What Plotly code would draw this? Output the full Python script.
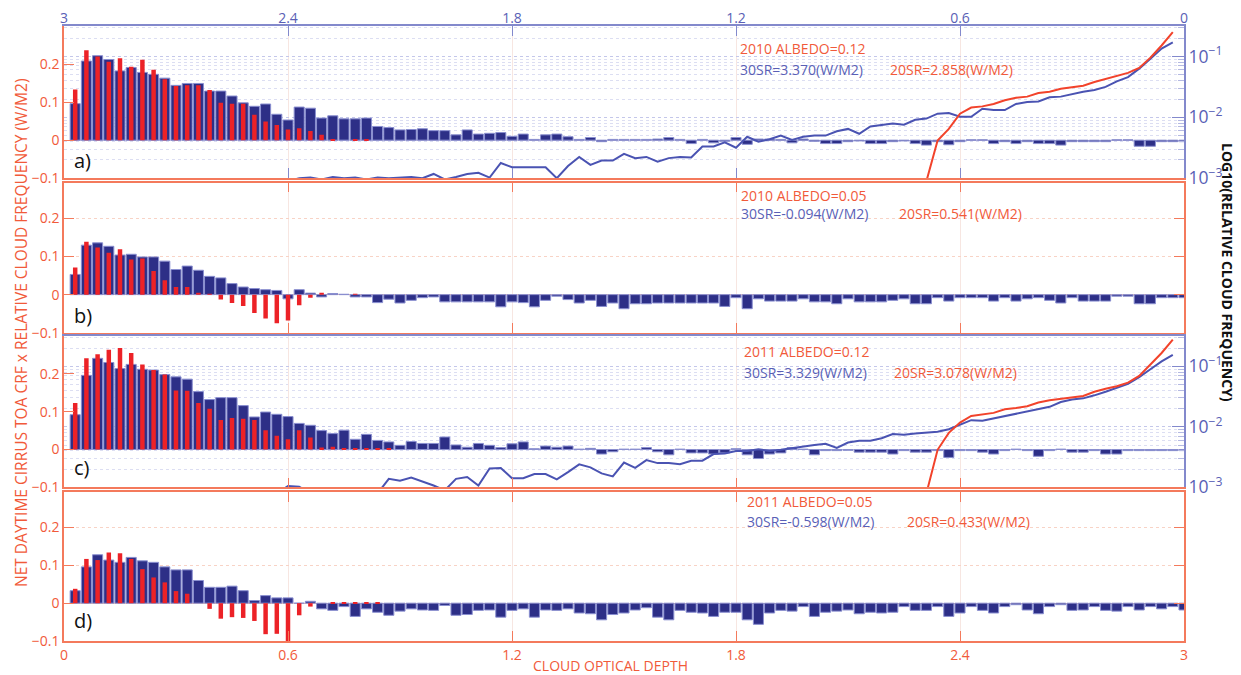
import plotly.graph_objects as go

# ---------------- data ----------------
# cloud optical depth bin centres (bottom axis) / same grid used for the top (reversed) axis
bins = [round(0.03 * k, 2) for k in range(1, 101)]

# panel a) 2010 ALBEDO=0.12  (30SR blue bars, 20SR red bars)
a_30sr = [0.096, 0.208, 0.222, 0.212, 0.182, 0.191, 0.178, 0.173, 0.163, 0.144,
          0.149, 0.149, 0.129, 0.129, 0.116, 0.098, 0.089, 0.095, 0.068, 0.053,
          0.087, 0.084, 0.058, 0.064, 0.056, 0.056, 0.058, 0.036, 0.033, 0.027,
          0.028, 0.030, 0.025, 0.025, 0.014, 0.027, 0.016, 0.018, 0.020, 0.010,
          0.016, 0.002, 0.014, 0.016, 0.009, 0.002, 0.007, -0.004, 0.002, 0.002,
          0.002, 0.002, 0.003, 0.007, 0.002, -0.009, 0.002, -0.007, -0.003, 0.007,
          -0.011, 0.003, 0.003, 0.002, -0.007, 0.003, -0.003, -0.009, -0.009, -0.004,
          -0.002, -0.009, -0.009, -0.004, -0.002, -0.009, -0.013, -0.004, -0.012, -0.004,
          0.001, 0.001, -0.009, -0.004, -0.009, -0.004, -0.009, -0.009, -0.013, -0.004,
          -0.004, -0.004, -0.004, 0.001, 0.001, -0.016, -0.016, -0.004, -0.004, -0.004]
a_20sr = [0.133, 0.236, 0.220, 0.206, 0.215, 0.193, 0.211, 0.185, 0.160, 0.142,
          0.144, 0.144, 0.132, 0.098, 0.096, 0.096, 0.067, 0.049, 0.040, 0.028,
          0.031, 0.024, 0.014, 0.002, 0.000, 0.002, 0.003, 0, 0, 0,
          0, 0, 0, 0, 0, 0, 0, 0, 0, 0, 0, 0, 0, 0, 0, 0, 0, 0, 0, 0,
          0, 0, 0, 0, 0, 0, 0, 0, 0, 0, 0, 0, 0, 0, 0, 0, 0, 0, 0, 0,
          0, 0, 0, 0, 0, 0, 0, 0, 0, 0, 0, 0, 0, 0, 0, 0, 0, 0, 0, 0,
          0, 0, 0, 0, 0, 0, 0, 0, 0, 0]

# panel b) 2010 ALBEDO=0.05
b_30sr = [0.053, 0.130, 0.136, 0.127, 0.104, 0.106, 0.099, 0.099, 0.088, 0.066,
          0.075, 0.064, 0.048, 0.044, 0.029, 0.020, 0.016, 0.013, 0.011, -0.011,
          0.013, 0.004, -0.006, 0.003, 0.001, -0.006, -0.006, -0.021, -0.012, -0.022,
          -0.015, -0.008, -0.006, -0.019, -0.019, -0.019, -0.019, -0.019, -0.032, -0.019,
          -0.021, -0.032, -0.015, -0.004, -0.013, -0.022, -0.015, -0.031, -0.022, -0.037,
          -0.024, -0.024, -0.022, -0.022, -0.022, -0.022, -0.022, -0.022, -0.031, -0.008,
          -0.037, -0.011, -0.017, -0.017, -0.017, -0.011, -0.019, -0.019, -0.024, -0.011,
          -0.019, -0.019, -0.019, -0.015, -0.011, -0.024, -0.024, -0.008, -0.017, -0.008,
          -0.008, -0.008, -0.017, -0.008, -0.017, -0.011, -0.008, -0.015, -0.022, -0.008,
          -0.017, -0.017, -0.017, -0.004, -0.004, -0.024, -0.024, -0.008, -0.008, -0.008]
b_20sr = [0.071, 0.139, 0.124, 0.110, 0.119, 0.092, 0.095, 0.062, 0.038, 0.020,
          0.020, 0.003, 0.001, -0.013, -0.022, -0.030, -0.048, -0.063, -0.075, -0.068,
          -0.028, -0.008, 0.004, 0, 0, 0.001, 0, 0, 0, 0,
          0, 0, 0, 0, 0, 0, 0, 0, 0, 0, 0, 0, 0, 0, 0, 0, 0, 0, 0, 0,
          0, 0, 0, 0, 0, 0, 0, 0, 0, 0, 0, 0, 0, 0, 0, 0, 0, 0, 0, 0,
          0, 0, 0, 0, 0, 0, 0, 0, 0, 0, 0, 0, 0, 0, 0, 0, 0, 0, 0, 0,
          0, 0, 0, 0, 0, 0, 0, 0, 0, 0]

# panel c) 2011 ALBEDO=0.12
c_30sr = [0.092, 0.196, 0.241, 0.230, 0.214, 0.225, 0.212, 0.210, 0.198, 0.192,
          0.186, 0.153, 0.132, 0.137, 0.137, 0.116, 0.086, 0.099, 0.093, 0.087,
          0.069, 0.064, 0.050, 0.042, 0.051, 0.027, 0.040, 0.024, 0.020, 0.011,
          0.021, 0.016, 0.016, 0.033, 0.012, 0.006, 0.016, 0.011, 0.005, 0.015,
          0.020, 0.002, 0.009, 0.006, 0.009, 0.001, 0.003, -0.012, -0.006, 0.001,
          0.001, 0.005, -0.006, -0.014, 0.001, -0.009, -0.009, -0.012, -0.009, 0.002,
          -0.014, -0.024, -0.012, -0.009, 0.005, 0.001, -0.014, -0.003, -0.003, -0.002,
          -0.007, -0.007, -0.007, -0.012, -0.003, -0.007, -0.007, -0.003, -0.021, -0.003,
          -0.003, -0.007, -0.012, -0.003, 0.001, -0.003, -0.018, -0.003, 0.001, -0.007,
          -0.007, -0.003, -0.012, -0.012, -0.003, -0.003, -0.003, -0.003, -0.003, -0.003]
c_20sr = [0.123, 0.241, 0.252, 0.264, 0.268, 0.255, 0.225, 0.210, 0.198, 0.156,
          0.155, 0.123, 0.108, 0.078, 0.083, 0.081, 0.078, 0.051, 0.036, 0.027,
          0.051, 0.032, 0.005, 0.007, 0.003, 0.002, 0.002, 0.002, 0.002, 0,
          0, 0, 0, 0, 0, 0, 0, 0, 0, 0, 0, 0, 0, 0, 0, 0, 0, 0, 0, 0,
          0, 0, 0, 0, 0, 0, 0, 0, 0, 0, 0, 0, 0, 0, 0, 0, 0, 0, 0, 0,
          0, 0, 0, 0, 0, 0, 0, 0, 0, 0, 0, 0, 0, 0, 0, 0, 0, 0, 0, 0,
          0, 0, 0, 0, 0, 0, 0, 0, 0, 0]

# panel d) 2011 ALBEDO=0.05
d_30sr = [0.033, 0.096, 0.128, 0.114, 0.108, 0.121, 0.112, 0.108, 0.096, 0.088,
          0.088, 0.060, 0.042, 0.042, 0.045, 0.033, 0.007, 0.020, 0.014, 0.014,
          0.000, 0.005, -0.015, -0.019, -0.009, -0.035, -0.015, -0.024, -0.032, -0.021,
          -0.015, -0.018, -0.019, -0.006, -0.032, -0.030, -0.019, -0.018, -0.037, -0.019,
          -0.015, -0.037, -0.018, -0.019, -0.015, -0.026, -0.028, -0.044, -0.030, -0.026,
          -0.018, -0.012, -0.037, -0.044, -0.019, -0.024, -0.026, -0.035, -0.024, -0.024,
          -0.044, -0.056, -0.026, -0.019, -0.021, -0.009, -0.035, -0.024, -0.021, -0.018,
          -0.028, -0.024, -0.026, -0.024, -0.009, -0.019, -0.019, -0.009, -0.035, -0.026,
          -0.009, -0.019, -0.026, -0.009, -0.004, -0.018, -0.028, -0.009, -0.004, -0.019,
          -0.018, -0.009, -0.019, -0.021, -0.009, -0.018, -0.009, -0.015, -0.009, -0.018]
d_20sr = [0.038, 0.117, 0.114, 0.134, 0.132, 0.117, 0.090, 0.068, 0.055, 0.032,
          0.025, 0.000, -0.015, -0.041, -0.037, -0.039, -0.047, -0.082, -0.081, -0.100,
          -0.032, -0.009, 0.000, 0.003, 0.002, 0.002, 0.002, 0.002, 0, 0,
          0, 0, 0, 0, 0, 0, 0, 0, 0, 0, 0, 0, 0, 0, 0, 0, 0, 0, 0, 0,
          0, 0, 0, 0, 0, 0, 0, 0, 0, 0, 0, 0, 0, 0, 0, 0, 0, 0, 0, 0,
          0, 0, 0, 0, 0, 0, 0, 0, 0, 0, 0, 0, 0, 0, 0, 0, 0, 0, 0, 0,
          0, 0, 0, 0, 0, 0, 0, 0, 0, 0]

# log10(relative cloud frequency) vs optical depth (top axis, starting at 0.03)
a_freq30_log10 = [-0.77, -0.87, -1.04, -1.20, -1.34, -1.41, -1.50, -1.55, -1.58, -1.62,
                  -1.66, -1.67, -1.74, -1.75, -1.78, -1.88, -1.88, -1.86, -1.99, -1.99,
                  -1.93, -1.94, -2.02, -2.04, -2.12, -2.10, -2.13, -2.15, -2.27, -2.19,
                  -2.23, -2.30, -2.30, -2.32, -2.37, -2.30, -2.36, -2.40, -2.32, -2.50,
                  -2.41, -2.48, -2.48, -2.66, -2.65, -2.67, -2.73, -2.65, -2.67, -2.60,
                  -2.71, -2.71, -2.78, -2.65, -2.80, -3.00, -2.82, -2.82, -2.82, -2.82,
                  -2.75, -2.99, -2.91, -2.93, -2.98, -3.02, -2.93, -3.00, -2.98, -2.99,
                  -3.00, -2.99, -3.02, -2.99, -3.00, -2.98, -3.02, -2.99, -3.00, -3.05]
a_freq20_log10 = [-0.60, -0.82, -1.02, -1.19, -1.27, -1.32, -1.36, -1.42, -1.48, -1.50,
                  -1.53, -1.58, -1.60, -1.66, -1.68, -1.72, -1.78, -1.82, -1.84, -1.94,
                  -2.19, -2.38, -3.05]
c_freq30_log10 = [-0.81, -0.92, -1.05, -1.18, -1.29, -1.36, -1.42, -1.48, -1.53, -1.55,
                  -1.59, -1.67, -1.71, -1.74, -1.78, -1.82, -1.87, -1.90, -1.89, -1.96,
                  -2.04, -2.08, -2.09, -2.11, -2.13, -2.12, -2.19, -2.23, -2.23, -2.26,
                  -2.35, -2.28, -2.30, -2.33, -2.35, -2.38, -2.40, -2.37, -2.40, -2.40,
                  -2.44, -2.45, -2.56, -2.56, -2.62, -2.60, -2.60, -2.55, -2.68, -2.59,
                  -2.82, -2.77, -2.67, -2.62, -2.75, -2.87, -2.78, -2.78, -2.85, -2.85,
                  -2.68, -2.69, -2.97, -2.83, -2.86, -3.05, -2.97, -2.90, -2.84, -2.89,
                  -2.86, -3.10, -3.20, -3.20, -3.20, -3.20, -3.20, -3.10, -2.99, -2.98,
                  -3.10]
c_freq20_log10 = [-0.56, -0.78, -0.97, -1.16, -1.27, -1.33, -1.37, -1.42, -1.49, -1.51,
                  -1.53, -1.56, -1.60, -1.66, -1.69, -1.71, -1.77, -1.80, -1.82, -1.93,
                  -2.10, -2.38, -3.10]

panel_letters = ["a)", "b)", "c)", "d)"]
albedo_titles = ["2010 ALBEDO=0.12", "2010 ALBEDO=0.05", "2011 ALBEDO=0.12", "2011 ALBEDO=0.05"]
sr30_texts = ["30SR=3.370(W/M2)", "30SR=-0.094(W/M2)", "30SR=3.329(W/M2)", "30SR=-0.598(W/M2)"]
sr20_texts = ["20SR=2.858(W/M2)", "20SR=0.541(W/M2)", "20SR=3.078(W/M2)", "20SR=0.433(W/M2)"]
x_ticks = [0, 0.6, 1.2, 1.8, 2.4, 3]

# ---------------- styling ----------------
FONT = "Open Sans"
ORANGE = "#f47a5c"
ORANGE_TXT = "#f15a3a"
RED = "#ec2227"
NAVY = "#2d2f87"
BLUE_EDGE = "#8a8fd0"
BLUE_LINE = "#4a53b2"
RED_LINE = "#f2432b"
BLUE_TXT = "#5a5fb6"
BLUE_AX = "#8389cc"

# the page body has an 8px margin, so the figure is drawn 8px right/down of the window corner
OFF = 8
W, H = 1241 - OFF, 675 - OFF
PL, PT, PR, PB = 64, 26, 1184, 641          # plot area edges in window pixels

fig = go.Figure()

series = [(a_30sr, a_20sr), (b_30sr, b_20sr), (c_30sr, c_20sr), (d_30sr, d_20sr)]
for i, (blue, red) in enumerate(series):
    xa = "x" if i == 0 else f"x{i+1}"
    ya = "y" if i == 0 else f"y{i+1}"
    fig.add_trace(go.Bar(x=bins, y=blue, width=0.027, xaxis=xa, yaxis=ya,
                         marker=dict(color=NAVY, line=dict(color=BLUE_EDGE, width=1)),
                         showlegend=False, hoverinfo="skip"))
    fig.add_trace(go.Bar(x=bins, y=red, width=0.012, xaxis=xa, yaxis=ya,
                         marker=dict(color=RED, line=dict(width=0)),
                         showlegend=False, hoverinfo="skip"))

for (f30, f20, xa, ya) in [(a_freq30_log10, a_freq20_log10, "x5", "y5"),
                           (c_freq30_log10, c_freq20_log10, "x6", "y6")]:
    fig.add_trace(go.Scatter(x=bins[:len(f30)], y=[10 ** v for v in f30], mode="lines",
                             line=dict(color=BLUE_LINE, width=2), xaxis=xa, yaxis=ya,
                             showlegend=False, hoverinfo="skip"))
    fig.add_trace(go.Scatter(x=bins[:len(f20)], y=[10 ** v for v in f20], mode="lines",
                             line=dict(color=RED_LINE, width=2), xaxis=xa, yaxis=ya,
                             showlegend=False, hoverinfo="skip"))

domains = [[0.7525, 1.0], [0.5013, 0.7452], [0.2499, 0.4959], [0.0, 0.2423]]
yranges = [[-0.1, 0.3], [-0.1, 0.294], [-0.1, 0.3], [-0.1, 0.294]]

layout = dict(
    width=W, height=H,
    margin=dict(l=PL - OFF, r=W - (PR - OFF), t=PT - OFF, b=H - (PB - OFF), pad=0),
    paper_bgcolor="white", plot_bgcolor="white",
    barmode="overlay", showlegend=False,
    font=dict(family=FONT, size=14, color=ORANGE_TXT),
)

for i in range(4):
    xk = "xaxis" if i == 0 else f"xaxis{i+1}"
    yk = "yaxis" if i == 0 else f"yaxis{i+1}"
    ya = "y" if i == 0 else f"y{i+1}"
    xa = "x" if i == 0 else f"x{i+1}"
    log_panel = i in (0, 2)
    layout[xk] = dict(
        domain=[0, 1], anchor=ya, range=[0, 3], tickvals=x_ticks, automargin=False,
        ticks="inside", ticklen=10, tickcolor=BLUE_AX if i == 0 else ORANGE, tickwidth=1,
        showticklabels=(i == 3), tickfont=dict(color=ORANGE_TXT, size=14),
        showline=True, linecolor=ORANGE, linewidth=1.5,
        mirror=(False if log_panel else "ticks"),
        showgrid=True, gridcolor="#f7e6e1", gridwidth=1, zeroline=False,
    )
    if i > 0:
        layout[xk]["matches"] = "x"
    layout[yk] = dict(
        domain=domains[i], anchor=xa, range=yranges[i], automargin=False,
        tickvals=[-0.1, 0, 0.1, 0.2], ticks="inside", ticklen=10, tickcolor=ORANGE,
        tickfont=dict(color=ORANGE_TXT, size=14),
        showline=True, linecolor=ORANGE, linewidth=1.5,
        mirror=(False if log_panel else "ticks"),
        showgrid=not log_panel, gridcolor="#f8d3c6", griddash="dot", gridwidth=1,
        zeroline=True, zerolinecolor="#c9c6e6" if log_panel else "#f5c3b4", zerolinewidth=1,
    )

for (xk, yk, basex, basey, labels) in [("xaxis5", "yaxis5", "x", "y", True),
                                       ("xaxis6", "yaxis6", "x3", "y3", False)]:
    layout[xk] = dict(
        overlaying=basex, anchor=basey, side="top", range=[3, 0], automargin=False,
        tickvals=[3, 2.4, 1.8, 1.2, 0.6, 0], ticklabelstandoff=-4,
        ticks="inside" if labels else "", ticklen=10, tickcolor=BLUE_AX,
        showticklabels=labels, tickfont=dict(color=BLUE_TXT, size=14),
        showline=True, linecolor=BLUE_AX, linewidth=1.5, showgrid=False, zeroline=False,
    )
    layout[yk] = dict(
        overlaying=basey, anchor=basex, side="right", type="log", range=[-3, -0.5],
        automargin=False, dtick=1, exponentformat="power", showexponent="all",
        ticks="inside", ticklen=12, tickcolor=BLUE_AX,
        tickfont=dict(color=BLUE_TXT, size=14),
        showline=True, linecolor=BLUE_AX, linewidth=1.5,
        showgrid=True, gridcolor="#c4c7ea", griddash="dot", gridwidth=1,
        minor=dict(ticks="inside", ticklen=6, tickcolor="#b5b9e2",
                   showgrid=True, gridcolor="#dcdef2", griddash="dot"),
        zeroline=False,
    )

fig.update_layout(**layout)


def px_x(px):
    return (px - PL) / float(PR - PL)


def px_y(py):
    return (PB - py) / float(PB - PT)


ann = []
title_y = [48, 196, 352, 502]
sr_y = [69, 213, 372, 521]
title_x = [738, 739, 742, 745]
sr20_x = [888, 897, 892, 905]
letter_y = [160, 315, 467, 620]
for i in range(4):
    ann.append(dict(text=albedo_titles[i], x=px_x(title_x[i]), y=px_y(title_y[i]),
                    xanchor="left", yanchor="middle", font=dict(color=ORANGE_TXT, size=14)))
    ann.append(dict(text=sr30_texts[i], x=px_x(title_x[i]), y=px_y(sr_y[i]),
                    xanchor="left", yanchor="middle", font=dict(color=BLUE_TXT, size=14)))
    ann.append(dict(text=sr20_texts[i], x=px_x(sr20_x[i]), y=px_y(sr_y[i]),
                    xanchor="left", yanchor="middle", font=dict(color=ORANGE_TXT, size=14)))
    ann.append(dict(text=panel_letters[i], x=px_x(72), y=px_y(letter_y[i]),
                    xanchor="left", yanchor="middle", font=dict(color="#111111", size=20)))

ann.append(dict(text="NET DAYTIME CIRRUS TOA CRF x RELATIVE CLOUD FREQUENCY (W/M2)",
                x=px_x(21), y=px_y(333), textangle=-90, xanchor="center", yanchor="middle",
                font=dict(color=ORANGE_TXT, size=15.5)))
ann.append(dict(text="<b>LOG10(RELATIVE CLOUD FREQUENCY)</b>",
                x=px_x(1228), y=px_y(272), textangle=90, xanchor="center", yanchor="middle",
                font=dict(color="#111111", size=14)))
ann.append(dict(text="CLOUD OPTICAL DEPTH", x=px_x(610), y=px_y(666),
                xanchor="center", yanchor="middle", font=dict(color=ORANGE_TXT, size=14)))

for a in ann:
    a.update(xref="paper", yref="paper", showarrow=False)
fig.update_layout(annotations=ann)

fig.write_html("out.html")
